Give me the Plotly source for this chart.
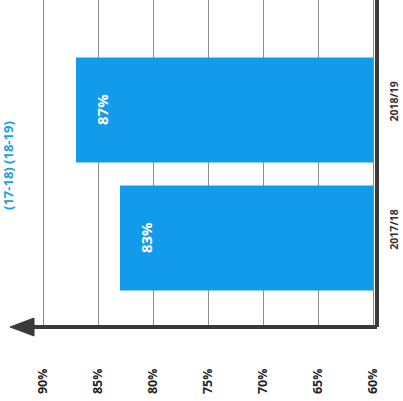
import plotly.graph_objects as go

# Participation rate by school year
years = ["2017/18", "2018/19"]
rates = [83, 87]
rate_labels = ["83%", "87%"]
tick_values = [60, 65, 70, 75, 80, 85, 90]
tick_text = ["60%", "65%", "70%", "75%", "80%", "85%", "90%"]
baseline = 60
subtitle = "(17-18) (18-19)"

W, H = 403, 401
L, R, T, B = 10, 28, 0, 74
PW, PH = W - L - R, H - T - B

BAR = "#129bea"
INK = "#3a3a3a"


def px(xp):
    return (xp - L) / PW


def py(yp):
    return (T + PH - yp) / PH


fig = go.Figure()
fig.add_trace(go.Bar(
    y=years,
    x=[r - baseline for r in rates],
    base=baseline,
    orientation="h",
    width=0.82,
    marker=dict(color=BAR, line=dict(width=0)),
    hoverinfo="skip",
))

# value labels, rotated, near the outer end of each bar
for yr, r, lab in zip(years, rates, rate_labels):
    fig.add_annotation(
        x=r, y=yr, xref="x", yref="y", text=lab, showarrow=False,
        textangle=-90, xanchor="center", yanchor="middle", xshift=26,
        font=dict(family="Open Sans", size=15, color="white", weight="bold"),
    )

fig.add_annotation(
    x=px(8), y=py(166), xref="paper", yref="paper", text=subtitle,
    showarrow=False, textangle=-90, xanchor="center", yanchor="middle",
    font=dict(family="Open Sans", size=13, color="#1a9ee6", weight="bold"),
)

# value axis line with an arrowhead pointing towards higher values
fig.add_shape(type="line", xref="paper", yref="paper",
              x0=px(30), x1=px(377), y0=py(327), y1=py(327),
              line=dict(color=INK, width=4))
fig.add_shape(type="path", xref="paper", yref="paper",
              path=(f"M {px(10)},{py(327)} L {px(34)},{py(318)} "
                    f"L {px(34)},{py(336)} Z"),
              fillcolor=INK, line=dict(color=INK, width=1))

fig.update_layout(
    width=W, height=H,
    margin=dict(l=L, r=R, t=T, b=B, pad=0, autoexpand=False),
    paper_bgcolor="white", plot_bgcolor="white",
    showlegend=False,
    xaxis=dict(
        range=[93.0, 59.82], automargin=False,
        tickmode="array", tickvals=tick_values, ticktext=tick_text,
        tickangle=-90, ticks="", ticklabelstandoff=38,
        tickfont=dict(family="Open Sans", size=12.5, color="#222222", weight="bold"),
        showgrid=True, gridcolor="#8c8c8c", gridwidth=1,
        zeroline=False, showline=False,
    ),
    yaxis=dict(
        type="category", categoryorder="array", categoryarray=years,
        range=[-0.695, 1.859], side="right", automargin=False,
        tickangle=-90, ticks="", ticklabelstandoff=6, ticklabelshift=-7,
        tickfont=dict(family="Open Sans", size=10.5, color="#333333", weight="bold"),
        showgrid=False, zeroline=False,
        showline=True, linecolor=INK, linewidth=4,
    ),
)

fig.write_html("out.html")
